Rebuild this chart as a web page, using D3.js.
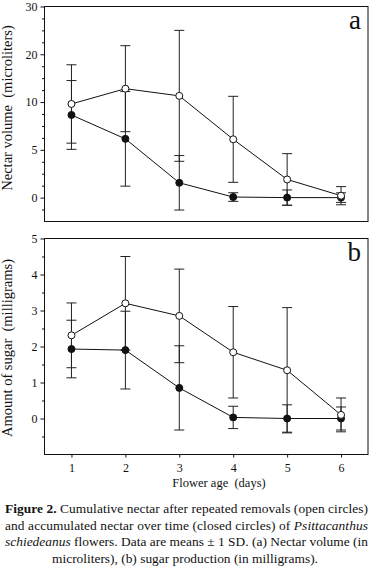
<!DOCTYPE html>
<html>
<head>
<meta charset="utf-8">
<script src="https://cdn.jsdelivr.net/npm/d3@7"></script>
<style>
  body { margin: 0; background: #fff; }
  svg { display: block; }
  svg text { font-family: "Liberation Serif", "DejaVu Serif", serif; }
  .axis text { font-size: 12px; fill: #111; }
  .axis line { stroke: #111; }
  .axis path { display: none; }
</style>
</head>
<body>
<svg id="drawing_region"></svg>
<script>
// flower age (days)
const days = [1, 2, 3, 4, 5, 6];

// (a) nectar volume, read in axis units (axis printed as 0,5,10,20,30)
const volOpen     = [9.8, 11.4, 10.65, 6.1, 1.9, 0.2];
const volOpenSD   = [4.1, 4.5, 6.85, 4.5, 2.7, 0.95];
const volClosed   = [8.65, 6.15, 1.55, 0.06, 0, 0];
const volClosedSD = [3.6, 4.95, 2.85, 0.45, 0.8, 0.5];
const volTicks      = [0, 5, 10, 15, 20];
const volTickLabels = ["0", "5", "10", "20", "30"];

// (b) amount of sugar (mg)
const sugOpen     = [2.31, 3.2, 2.85, 1.84, 1.34, 0.1];
const sugOpenSD   = [0.9, 1.3, 1.3, 1.27, 1.74, 0.47];
const sugClosed   = [1.93, 1.9, 0.85, 0.03, 0, 0];
const sugClosedSD = [0.8, 1.08, 1.17, 0.31, 0.38, 0.32];
const sugTicks      = [0, 1, 2, 3, 4, 5];
const sugTickLabels = ["0", "1", "2", "3", "4", "5"];

const captionLines = [
    [{t: "Figure 2.", b: true}, {t: " Cumulative nectar after repeated removals (open circles)"}],
    [{t: "and accumulated nectar over time (closed circles) of "}, {t: "Psittacanthus", i: true}],
    [{t: "schiedeanus", i: true}, {t: " flowers. Data are means \u00b1 1 SD. (a) Nectar volume (in"}],
    [{t: "microliters), (b) sugar production (in milligrams)."}]
];

const svg = d3.select('#drawing_region')
    .attr('width', 371)
    .attr('height', 568);

const xscale = d3.scaleLinear()
    .domain([0.5, 6.5])
    .range([44.5, 368]);

function drawPanel(p) {
    const y = d3.scaleLinear()
        .domain(p.domain)
        .range([p.bottom, p.top]);

    const g = svg.append('g');

    // frame
    g.append('rect')
        .attr('x', xscale.range()[0])
        .attr('y', p.top)
        .attr('width', xscale.range()[1] - xscale.range()[0])
        .attr('height', p.bottom - p.top)
        .attr('fill', 'none')
        .attr('stroke', '#111')
        .attr('stroke-width', 1);

    // y axis, major + minor ticks
    g.append('g')
        .attr('class', 'axis')
        .attr('transform', `translate(${xscale.range()[0]}, 0)`)
        .call(d3.axisLeft(y).tickValues(p.ticks).tickSize(4).tickPadding(3)
            .tickFormat((d, i) => p.tickLabels[i]));

    g.append('g')
        .attr('class', 'axis')
        .attr('transform', `translate(${xscale.range()[0]}, 0)`)
        .call(d3.axisLeft(y).tickValues(d3.range(p.domain[0] + p.minor, p.domain[1], p.minor)
                .filter(v => !p.ticks.some(t => Math.abs(t - v) < 1e-6)))
            .tickSize(2.5).tickFormat(''));

    // y title
    g.append('text')
        .attr('transform', `translate(12, ${p.titleY}) rotate(-90)`)
        .attr('text-anchor', 'middle')
        .attr('font-size', '14.5px')
        .attr('fill', '#111')
        .style('white-space', 'pre')
        .text(p.title);

    // panel letter
    g.append('text')
        .attr('x', 361)
        .attr('y', p.top + 22)
        .attr('text-anchor', 'end')
        .attr('font-size', '27px')
        .attr('fill', '#111')
        .text(p.letter);

    const series = [
        {mean: p.closed, sd: p.closedSD, fill: '#111'},
        {mean: p.open, sd: p.openSD, fill: '#fff'}
    ];

    const capW = 5;
    series.forEach(s => {
        const bars = g.append('g').attr('stroke', '#222').attr('stroke-width', 1);
        days.forEach((d, i) => {
            const hi = y(s.mean[i] + s.sd[i]);
            const lo = y(s.mean[i] - s.sd[i]);
            bars.append('line').attr('x1', xscale(d)).attr('x2', xscale(d)).attr('y1', hi).attr('y2', lo);
            bars.append('line').attr('x1', xscale(d) - capW).attr('x2', xscale(d) + capW).attr('y1', hi).attr('y2', hi);
            bars.append('line').attr('x1', xscale(d) - capW).attr('x2', xscale(d) + capW).attr('y1', lo).attr('y2', lo);
        });
    });

    const line = d3.line()
        .x((d, i) => xscale(days[i]))
        .y(d => y(d));

    series.forEach(s => {
        g.append('path')
            .attr('d', line(s.mean))
            .attr('fill', 'none')
            .attr('stroke', '#111')
            .attr('stroke-width', 1);
    });

    series.forEach(s => {
        g.selectAll(null)
            .data(s.mean)
            .enter()
            .append('circle')
            .attr('cx', (d, i) => xscale(days[i]))
            .attr('cy', d => y(d))
            .attr('r', 3.5)
            .attr('fill', s.fill)
            .attr('stroke', '#111')
            .attr('stroke-width', 1);
    });

    if (p.xaxis) {
        g.append('g')
            .attr('class', 'axis')
            .attr('transform', `translate(0, ${p.bottom})`)
            .call(d3.axisBottom(xscale).tickValues(days).tickSize(3).tickPadding(6)
                .tickFormat(d3.format('d')));

        g.append('text')
            .attr('x', 219)
            .attr('y', 487)
            .attr('text-anchor', 'middle')
            .attr('font-size', '12.5px')
            .attr('fill', '#111')
            .style('white-space', 'pre')
            .text('Flower age  (days)');
    }
}

drawPanel({
    top: 6.5, bottom: 221.5, domain: [-2.5, 20], minor: 1.25,
    ticks: volTicks, tickLabels: volTickLabels,
    open: volOpen, openSD: volOpenSD, closed: volClosed, closedSD: volClosedSD,
    title: 'Nectar volume  (microliters)', titleY: 108, letter: 'a', xaxis: false
});

drawPanel({
    top: 238.5, bottom: 454.5, domain: [-1, 5], minor: 0.5,
    ticks: sugTicks, tickLabels: sugTickLabels,
    open: sugOpen, openSD: sugOpenSD, closed: sugClosed, closedSD: sugClosedSD,
    title: 'Amount of sugar  (milligrams)', titleY: 348, letter: 'b', xaxis: true
});

// caption: first three lines justified, last centred
const caption = svg.append('g')
    .attr('font-family', '"Liberation Serif", serif')
    .attr('font-size', '13.4px')
    .attr('fill', '#111');

captionLines.forEach((parts, k) => {
    const last = k === captionLines.length - 1;
    const t = caption.append('text')
        .attr('x', last ? 185 : 5)
        .attr('y', 513 + k * 16.5)
        .attr('text-anchor', last ? 'middle' : 'start')
        .style('white-space', 'pre');
    parts.forEach(s => {
        t.append('tspan')
            .attr('font-weight', s.b ? 'bold' : null)
            .attr('font-style', s.i ? 'italic' : null)
            .text(s.t);
    });
    if (!last) {
        t.attr('textLength', 363).attr('lengthAdjust', 'spacing');
    }
});
</script>
</body>
</html>
